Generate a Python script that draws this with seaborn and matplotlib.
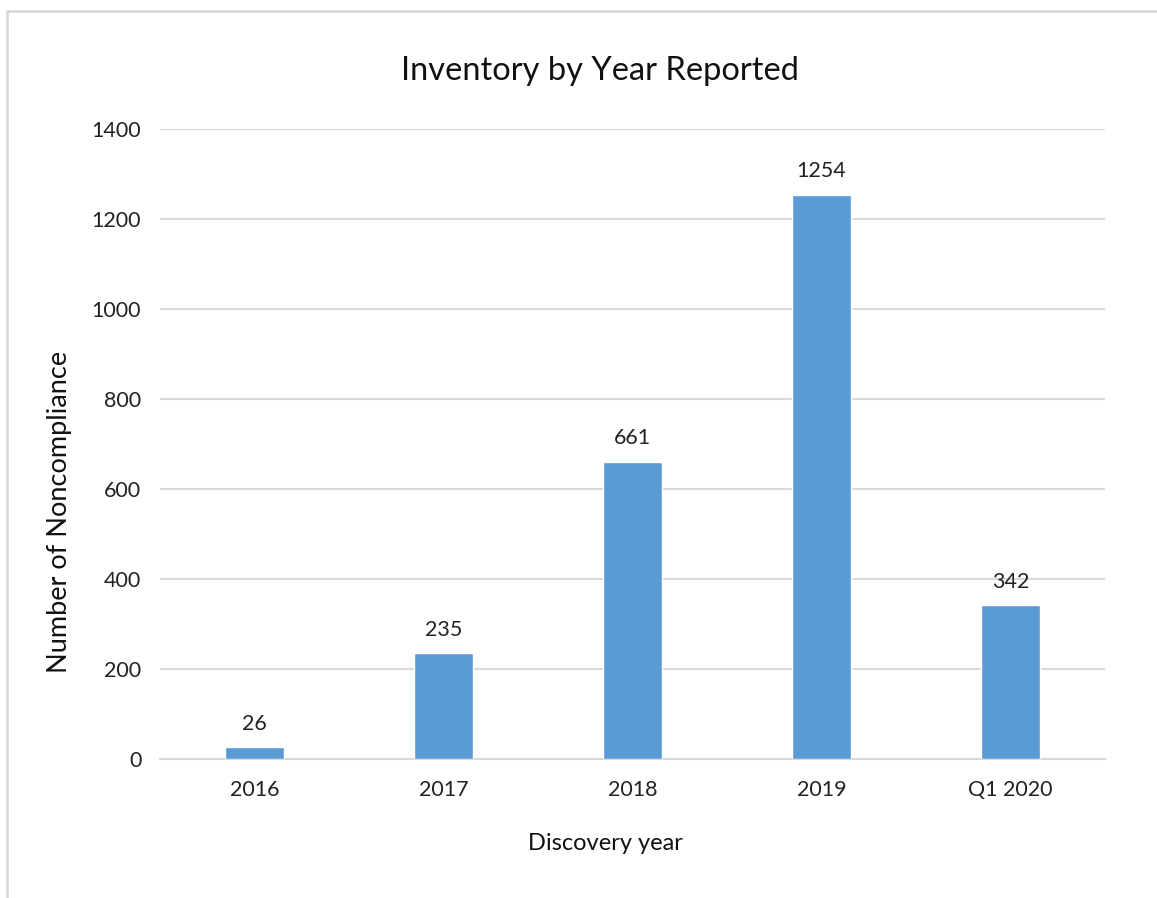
import matplotlib
matplotlib.use("Agg")
import matplotlib.pyplot as plt
import seaborn as sns
import pandas as pd
from matplotlib.patches import Rectangle

categories = ["2016", "2017", "2018", "2019", "Q1 2020"]
values = [26, 235, 661, 1254, 342]
yticks = [0, 200, 400, 600, 800, 1000, 1200, 1400]

df = pd.DataFrame({"year": categories, "count": values})

sns.set_theme(style="white")
plt.rcParams['font.family'] = ['Lato', 'DejaVu Sans']

W, H = 1157, 898
fig = plt.figure(figsize=(W / 100, H / 100), dpi=100)
ax = fig.add_axes([160 / W, 1 - 759 / H, (1105 - 160) / W, (759 - 129) / H])

sns.barplot(data=df, x="year", y="count", color="#5B9BD5", saturation=1,
            width=0.31, ax=ax, zorder=3)

ax.set_ylim(0, 1400)
ax.set_xlim(-0.5, 4.5)
ax.set_yticks(yticks)
ax.yaxis.grid(True, color="#D9D9D9", linewidth=1.5, zorder=0)
ax.set_axisbelow(True)
for s in ["top", "right", "left"]:
    ax.spines[s].set_visible(False)
ax.spines["bottom"].set_color("#D9D9D9")
ax.spines["bottom"].set_linewidth(1.5)
ax.tick_params(axis="both", length=0, labelsize=15.5, colors="#222222")
ax.tick_params(axis="y", pad=13.5)
ax.tick_params(axis="x", pad=15)

for i, v in enumerate(values):
    ax.text(i, v + 30, str(v), ha="center", va="bottom", fontsize=15.5, color="#222222")

ax.set_xlabel("Discovery year", fontsize=17, color="#111111", va="center")
ax.xaxis.set_label_coords((605 - 160) / 945, -(843 - 759) / 630)
ax.set_ylabel("Number of Noncompliance", fontsize=19.5, color="#111111", va="center")
ax.yaxis.set_label_coords((60 - 160) / 945, (759 - 512) / 630)
fig.text(600 / W, 1 - 71 / H, "Inventory by Year Reported", fontsize=23.5,
         color="#111111", ha="center", va="center")

fig.patches.append(Rectangle((7 / W, -0.05), 1.1, 1 - 11 / H + 0.05,
                             transform=fig.transFigure, fill=False,
                             edgecolor="#D9D9D9", linewidth=2))

fig.savefig("out.png", dpi=100, facecolor="white")
